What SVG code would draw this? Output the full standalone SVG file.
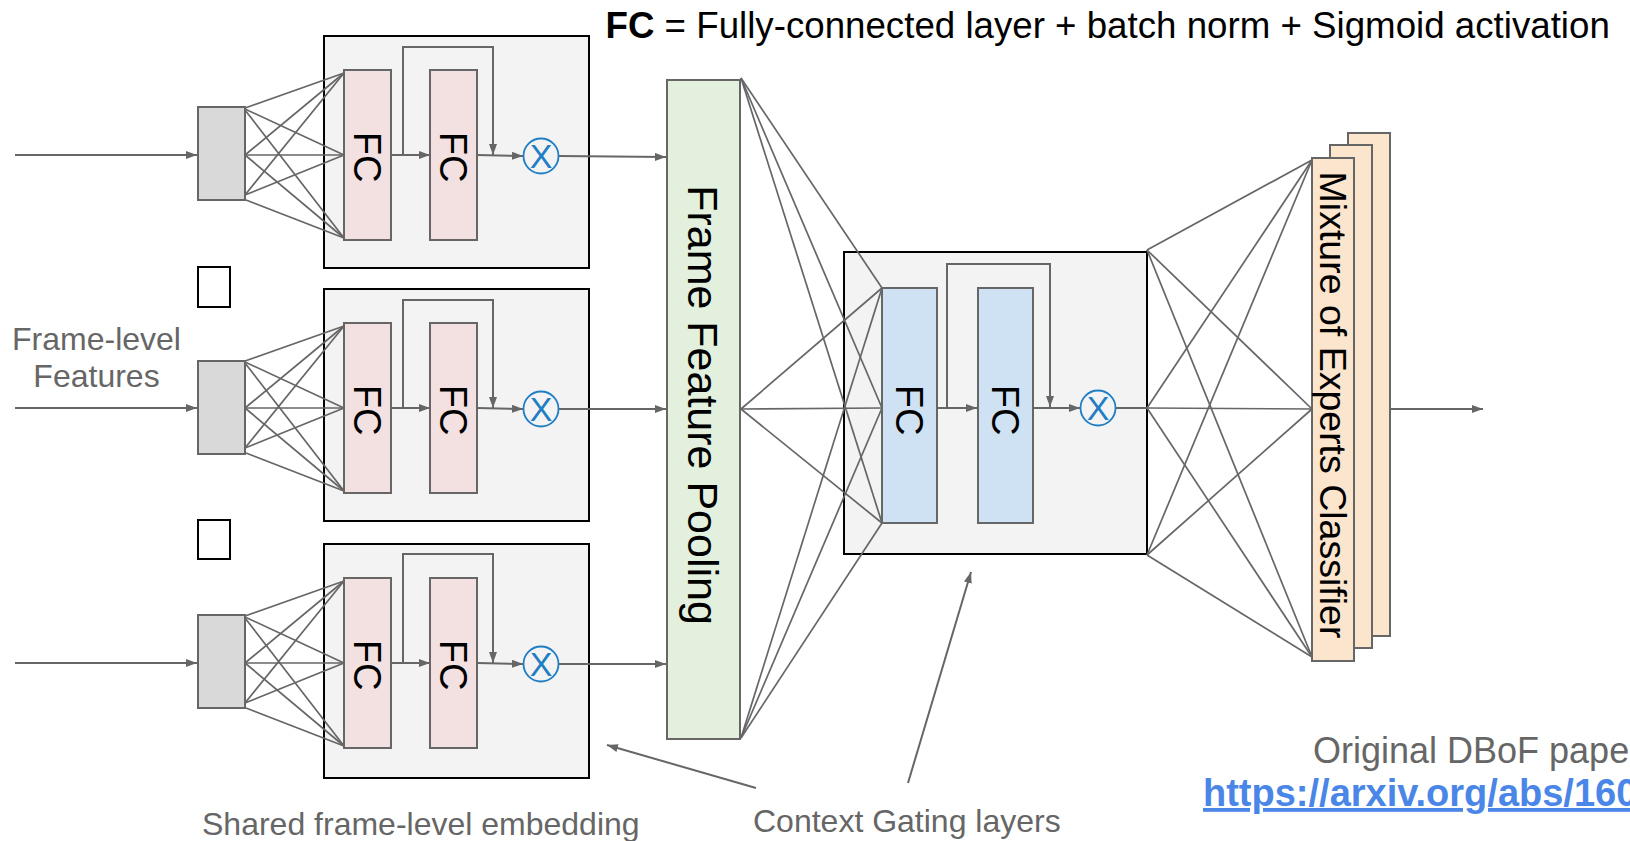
<svg xmlns="http://www.w3.org/2000/svg" width="1630" height="841" viewBox="0 0 1630 841">
<style>
.bg{fill:#ffffff}
.cont{fill:#f3f3f3;stroke:#000000;stroke-width:2}
.gray{fill:#d9d9d9;stroke:#666666;stroke-width:2}
.fcp{fill:#f3e1e1;stroke:#666666;stroke-width:2}
.fcb{fill:#cfe2f3;stroke:#666666;stroke-width:2}
.pool{fill:#e3f0de;stroke:#666666;stroke-width:2}
.moe{fill:#fce5cd;stroke:#666666;stroke-width:2}
.sq{fill:#ffffff;stroke:#000000;stroke-width:2}
.ln{stroke:#666666;stroke-width:2;fill:none}
.fan{stroke:#666666;stroke-width:1.7;fill:none}
.arr{stroke:#666666;stroke-width:2;fill:none;marker-end:url(#ah)}
.mul{fill:none;stroke:#1f7ec4;stroke-width:1.8}
.mult{font-family:'Liberation Sans',Arial,sans-serif;font-size:34px;fill:#1f7ec4;text-anchor:middle}
.fct{font-family:'Liberation Sans',Arial,sans-serif;font-size:38px;fill:#000000;text-anchor:middle}
.big{font-family:'Liberation Sans',Arial,sans-serif;font-size:43px;fill:#000000;text-anchor:middle}
.lab{font-family:'Liberation Sans',Arial,sans-serif;font-size:32px;fill:#666666}
.cap{font-family:'Liberation Sans',Arial,sans-serif;font-size:36.7px;fill:#000000}
</style>
<defs>
<marker id="ah" viewBox="0 0 11 8" refX="11" refY="4" markerWidth="11" markerHeight="8" markerUnits="userSpaceOnUse" orient="auto"><path d="M0,0 L11,4 L0,8 z" fill="#666666"/></marker>
</defs>
<rect class="bg" x="0" y="0" width="1630" height="841"/>

<!-- containers -->
<g id="embed1"><rect class="cont" x="324" y="36" width="265" height="232"/></g>
<g id="embed2"><rect class="cont" x="324" y="289" width="265" height="232"/></g>
<g id="embed3"><rect class="cont" x="324" y="544" width="265" height="234"/></g>
<g id="ctxbox"><rect class="cont" x="844" y="252" width="303" height="302"/></g>

<g id="connectors">
<!-- inputs -->
<line class="arr" x1="15" y1="155" x2="197" y2="155"/>
<line class="arr" x1="15" y1="408" x2="197" y2="408"/>
<line class="arr" x1="15" y1="663" x2="197" y2="663"/>
<g class="fan">
<!-- row1 -->
<line x1="245" y1="108" x2="344" y2="73"/><line x1="245" y1="109" x2="344" y2="155"/><line x1="245" y1="110" x2="344" y2="238"/>
<line x1="245" y1="155" x2="344" y2="73"/><line x1="245" y1="155" x2="344" y2="155"/><line x1="245" y1="155" x2="344" y2="238"/>
<line x1="245" y1="195" x2="344" y2="73"/><line x1="245" y1="195" x2="344" y2="155"/><line x1="246" y1="200" x2="344" y2="238"/>
<!-- row2 -->
<line x1="245" y1="361" x2="344" y2="326"/><line x1="245" y1="362" x2="344" y2="408"/><line x1="245" y1="363" x2="344" y2="491"/>
<line x1="245" y1="408" x2="344" y2="326"/><line x1="245" y1="408" x2="344" y2="408"/><line x1="245" y1="408" x2="344" y2="491"/>
<line x1="245" y1="448" x2="344" y2="326"/><line x1="245" y1="448" x2="344" y2="408"/><line x1="246" y1="453" x2="344" y2="491"/>
<!-- row3 -->
<line x1="245" y1="616" x2="344" y2="581"/><line x1="245" y1="617" x2="344" y2="663"/><line x1="245" y1="618" x2="344" y2="746"/>
<line x1="245" y1="663" x2="344" y2="581"/><line x1="245" y1="663" x2="344" y2="663"/><line x1="245" y1="663" x2="344" y2="746"/>
<line x1="245" y1="703" x2="344" y2="581"/><line x1="245" y1="703" x2="344" y2="663"/><line x1="246" y1="708" x2="344" y2="746"/>
<!-- pooling to context gating -->
<line x1="741" y1="78" x2="882" y2="288"/><line x1="741" y1="78" x2="882" y2="408"/><line x1="741" y1="78" x2="882" y2="523"/>
<line x1="741" y1="409" x2="882" y2="288"/><line x1="741" y1="409" x2="882" y2="408"/><line x1="741" y1="409" x2="882" y2="523"/>
<line x1="741" y1="738" x2="882" y2="288"/><line x1="741" y1="738" x2="882" y2="408"/><line x1="741" y1="738" x2="882" y2="523"/>
<!-- context gating to MoE -->
<line x1="1147" y1="250" x2="1312" y2="160"/><line x1="1147" y1="250" x2="1312" y2="409"/><line x1="1147" y1="250" x2="1312" y2="657"/>
<line x1="1147" y1="408" x2="1312" y2="160"/><line x1="1147" y1="408" x2="1312" y2="409"/><line x1="1147" y1="408" x2="1312" y2="657"/>
<line x1="1147" y1="555" x2="1312" y2="160"/><line x1="1147" y1="555" x2="1312" y2="409"/><line x1="1147" y1="555" x2="1312" y2="657"/>
</g>
<!-- row internals -->
<line class="arr" x1="391" y1="155" x2="430" y2="155"/>
<polyline class="arr" points="403,155 403,47 493,47 493,155"/>
<line class="arr" x1="477" y1="155" x2="523" y2="156"/>
<line class="arr" x1="559" y1="156" x2="666" y2="157"/>

<line class="arr" x1="391" y1="408" x2="430" y2="408"/>
<polyline class="arr" points="403,408 403,300 493,300 493,408"/>
<line class="arr" x1="477" y1="408" x2="523" y2="409"/>
<line class="arr" x1="559" y1="409" x2="666" y2="409"/>

<line class="arr" x1="391" y1="663" x2="430" y2="663"/>
<polyline class="arr" points="403,663 403,554 493,554 493,663"/>
<line class="arr" x1="477" y1="663" x2="523" y2="664"/>
<line class="arr" x1="559" y1="664" x2="666" y2="664"/>
<!-- context gating internals -->
<line class="arr" x1="937" y1="408" x2="977" y2="408"/>
<polyline class="arr" points="947,408 947,264 1050,264 1050,407"/>
<line class="arr" x1="1033" y1="408" x2="1080" y2="408"/>
<line class="ln" x1="1116" y1="408" x2="1147" y2="408"/>
<!-- output -->
<line class="arr" x1="1391" y1="409" x2="1483" y2="409"/>
<!-- pointers -->
<line class="arr" x1="756" y1="788" x2="607" y2="745"/>
<line class="arr" x1="908" y1="783" x2="971" y2="572"/>
</g>

<!-- gray input boxes -->
<g id="in1"><rect class="gray" x="198" y="107" width="47" height="93"/></g>
<g id="in2"><rect class="gray" x="198" y="361" width="47" height="93"/></g>
<g id="in3"><rect class="gray" x="198" y="615" width="47" height="93"/></g>
<g id="gap1"><rect class="sq" x="198" y="267" width="32" height="40"/></g>
<g id="gap2"><rect class="sq" x="198" y="520" width="32" height="39"/></g>

<!-- FC blocks row 1 -->
<g id="fc1a"><rect class="fcp" x="344" y="70" width="47" height="170"/><text class="fct" transform="translate(353.5,157) rotate(90)">FC</text></g>
<g id="fc1b"><rect class="fcp" x="430" y="70" width="47" height="170"/><text class="fct" transform="translate(439.5,157) rotate(90)">FC</text></g>
<g id="mul1"><circle class="mul" cx="541" cy="156" r="17.5"/><text class="mult" x="541" y="168.2">X</text></g>
<!-- row 2 -->
<g id="fc2a"><rect class="fcp" x="344" y="323" width="47" height="170"/><text class="fct" transform="translate(353.5,410) rotate(90)">FC</text></g>
<g id="fc2b"><rect class="fcp" x="430" y="323" width="47" height="170"/><text class="fct" transform="translate(439.5,410) rotate(90)">FC</text></g>
<g id="mul2"><circle class="mul" cx="541" cy="409" r="17.5"/><text class="mult" x="541" y="421.2">X</text></g>
<!-- row 3 -->
<g id="fc3a"><rect class="fcp" x="344" y="578" width="47" height="170"/><text class="fct" transform="translate(353.5,665) rotate(90)">FC</text></g>
<g id="fc3b"><rect class="fcp" x="430" y="578" width="47" height="170"/><text class="fct" transform="translate(439.5,665) rotate(90)">FC</text></g>
<g id="mul3"><circle class="mul" cx="541" cy="664" r="17.5"/><text class="mult" x="541" y="676.2">X</text></g>

<!-- pooling -->
<g id="pooling"><rect class="pool" x="667" y="80" width="73" height="659"/><text class="big" transform="translate(688,405) rotate(90)">Frame Feature Pooling</text></g>

<!-- context gating internals -->
<g id="cgfc1"><rect class="fcb" x="882" y="288" width="55" height="235"/><text class="fct" transform="translate(895.5,410) rotate(90)">FC</text></g>
<g id="cgfc2"><rect class="fcb" x="978" y="288" width="55" height="235"/><text class="fct" transform="translate(991.5,410) rotate(90)">FC</text></g>
<g id="cgmul"><circle class="mul" cx="1098" cy="408" r="17.5"/><text class="mult" x="1098" y="420.2">X</text></g>

<!-- MoE -->
<g id="moe">
<rect class="moe" x="1348" y="133" width="42" height="503"/>
<rect class="moe" x="1330" y="145" width="42" height="503"/>
<rect class="moe" x="1312" y="158" width="42" height="503"/>
<text transform="translate(1319.5,405) rotate(90)" style="font-family:'Liberation Sans',Arial,sans-serif;font-size:37.5px;fill:#000000;text-anchor:middle">Mixture of Experts Classifier</text>
</g>

<!-- labels -->
<g id="title"><text class="cap" x="605.5" y="38"><tspan font-weight="bold">FC</tspan> = Fully-connected layer + batch norm + Sigmoid activation</text></g>
<g id="lbl-input"><text class="lab" text-anchor="middle" x="96.5" y="350">Frame-level</text><text class="lab" text-anchor="middle" x="96.5" y="387">Features</text></g>
<g id="lbl-shared"><text class="lab" x="202" y="835">Shared frame-level embedding</text></g>
<g id="lbl-cg"><text class="lab" x="753" y="832">Context Gating layers</text></g>
<g id="lbl-paper"><text x="1313" y="763" style="font-family:'Liberation Sans',Arial,sans-serif;font-size:36px;fill:#666666">Original DBoF paper</text>
<text x="1203" y="806" text-decoration="underline" style="font-family:'Liberation Sans',Arial,sans-serif;font-size:38px;font-weight:bold;fill:#4a86e8">https://arxiv.org/abs/1609.08675</text></g>
</svg>
